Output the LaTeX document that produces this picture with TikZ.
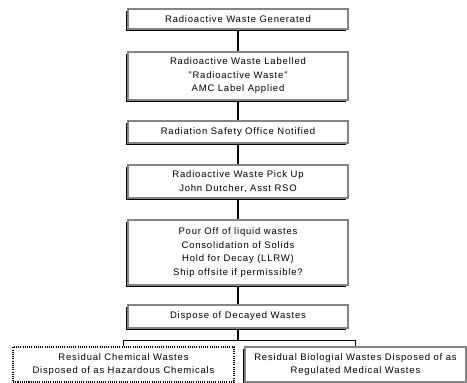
\documentclass[tikz,border=0pt]{standalone}
\usepackage{fontspec}
\setmainfont[LetterSpace=8.5]{Liberation Sans}
\usetikzlibrary{shadows}
\begin{document}
\begin{tikzpicture}[
  x=1pt, y=-1pt,
  font=\fontsize{9.5}{13.5}\selectfont,
  every node/.style={inner sep=0pt},
]

\definecolor{boxgray}{HTML}{858585}
\definecolor{ink}{HTML}{000000}

\tikzset{
  stepbox/.style={draw=boxgray, line width=1.4pt, fill=white, align=center,
    minimum width=220pt,
    drop shadow={shadow xshift=-2pt, shadow yshift=-2pt, fill=ink, opacity=1}},
  dotbox/.style={draw=ink, line width=1.1pt, dash pattern=on 1.1pt off 1.1pt,
    fill=white, align=center, minimum width=221pt, minimum height=35pt},
  link/.style={draw=ink, line width=1.5pt},
}

\useasboundingbox (0,0) rectangle (467,383);

% main column
\node[stepbox, minimum height=20pt] (generated) at (238,19) {Radioactive Waste Generated};
\node[stepbox, minimum height=48pt] (labelled) at (238,76)
  {Radioactive Waste Labelled\\"Radioactive Waste"\\AMC Label Applied};
\node[stepbox, minimum height=22pt] (notified) at (238,132) {Radiation Safety Office Notified};
\node[stepbox, minimum height=33pt] (pickup) at (238,181.5)
  {Radioactive Waste Pick Up\\John Dutcher, Asst RSO};
\node[stepbox, minimum height=65pt] (handling) at (238,252.5)
  {Pour Off of liquid wastes\\Consolidation of Solids\\Hold for Decay (LLRW)\\Ship offsite if permissible?};
\node[stepbox, minimum height=23pt] (dispose) at (238,316.5) {Dispose of Decayed Wastes};

% the two outlets
\node[dotbox] (chemical) at (123.5,364.5)
  {Residual Chemical Wastes\\Disposed of as Hazardous Chemicals};
\node[stepbox, minimum width=221pt, minimum height=35pt] (biological) at (355.5,364.5)
  {Residual Biologial Wastes Disposed of as\\Regulated Medical Wastes};

% connectors
\draw[link] (generated) -- (labelled);
\draw[link] (labelled) -- (notified);
\draw[link] (notified) -- (pickup);
\draw[link] (pickup) -- (handling);
\draw[link] (handling) -- (dispose);
\draw[link] (dispose.south) -- ++(0,12) coordinate (fork);
\draw[link] (chemical.north) |- (fork) -| (biological.north);

\end{tikzpicture}
\end{document}
